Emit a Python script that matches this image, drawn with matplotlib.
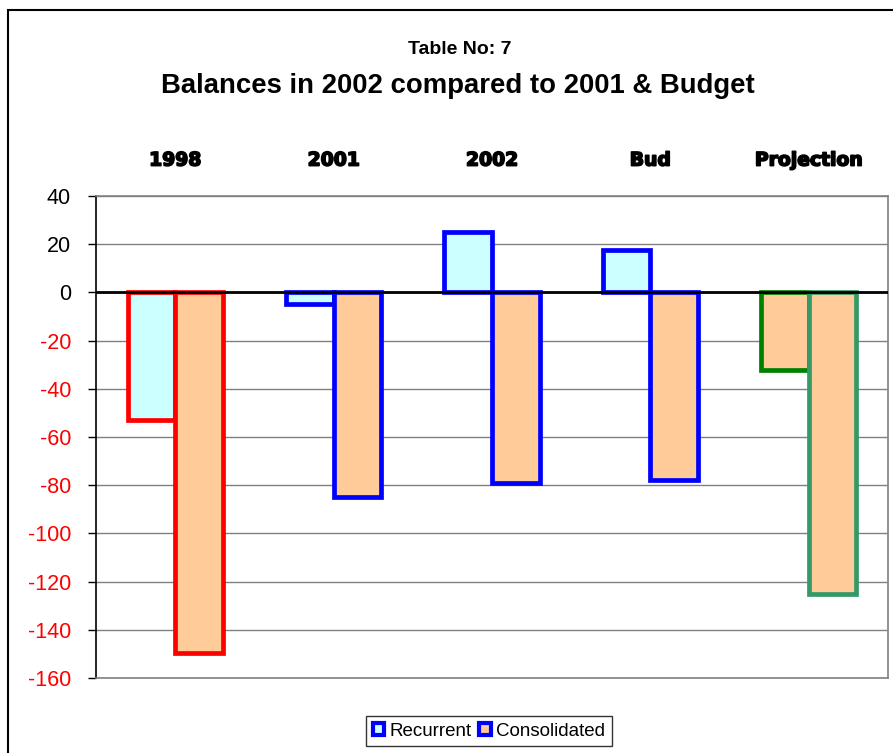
import matplotlib.pyplot as plt
import matplotlib.patheffects as pe
import numpy as np
from matplotlib.patches import Rectangle

categories = ['1998', '2001', '2002', 'Bud', 'Projection']
recurrent = [-53, -5, 25, 17.5, -32]
consolidated = [-149.5, -85, -79, -78, -125]

recurrent_fill = ['#CCFFFF', '#CCFFFF', '#CCFFFF', '#CCFFFF', '#FFCC99']
recurrent_edge = ['#FF0000', '#0000FF', '#0000FF', '#0000FF', '#008000']
consolidated_fill = ['#FFCC99'] * 5
consolidated_edge = ['#FF0000', '#0000FF', '#0000FF', '#0000FF', '#339966']

y_ticks = [40, 20, 0, -20, -40, -60, -80, -100, -120, -140, -160]

W, H = 893, 753
fig = plt.figure(figsize=(W / 100, H / 100), dpi=100)
fig.patch.set_facecolor('white')

# chart area border (runs off the right/bottom of the image)
fig.patches.append(Rectangle((8 / W, -0.1), 1.1, 1 - 10 / H + 0.1,
                             transform=fig.transFigure, fill=False,
                             edgecolor='black', linewidth=1.5))

ax = fig.add_axes([96 / W, 1 - 678 / H, (888 - 96) / W, (678 - 196) / H])

x = np.arange(len(categories))
w = 0.3
ax.bar(x - w / 2, recurrent, w, color=recurrent_fill, edgecolor=recurrent_edge,
       linewidth=3.4, zorder=3, label='Recurrent')
ax.bar(x + w / 2, consolidated, w, color=consolidated_fill, edgecolor=consolidated_edge,
       linewidth=3.4, zorder=3, label='Consolidated')
ax.axhline(0, color='black', linewidth=2, zorder=4)

ax.set_xlim(-0.5, len(categories) - 0.5)
ax.set_ylim(-160, 40)
ax.set_yticks(y_ticks)
ax.set_yticklabels([str(v) for v in y_ticks], fontsize=15.5, family='Liberation Sans')
for lbl, v in zip(ax.get_yticklabels(), y_ticks):
    lbl.set_color('red' if v < 0 else 'black')
ax.tick_params(axis='y', direction='out', length=6, width=1, color='black', pad=12)

ax.xaxis.tick_top()
ax.set_xticks(x)
ax.set_xticklabels(categories, fontsize=13.5, fontweight='bold', family='DejaVu Sans')
for lbl in ax.get_xticklabels():
    lbl.set_path_effects([pe.withStroke(linewidth=1.2, foreground='black')])
ax.tick_params(axis='x', length=0, pad=19)

ax.grid(axis='y', color='#808080', linewidth=1, zorder=0)
ax.set_axisbelow(True)
for side in ['top', 'right', 'bottom']:
    ax.spines[side].set_color('#808080')
    ax.spines[side].set_linewidth(1.2)
ax.spines['left'].set_color('black')
ax.spines['left'].set_linewidth(1.2)

fig.text(460 / W, 1 - 49 / H, 'Table No: 7', ha='center', va='center',
         fontsize=14, fontweight='bold', family='Liberation Sans')
fig.text(458 / W, 1 - 86 / H, 'Balances in 2002 compared to 2001 & Budget', ha='center',
         va='center', fontsize=19.8, fontweight='bold', family='Liberation Sans')

handles, labels = ax.get_legend_handles_labels()
leg = fig.legend(handles, labels, loc='center', bbox_to_anchor=(489 / W, 1 - 731 / H),
                 ncol=2, prop={'family': 'Liberation Sans', 'size': 13.5},
                 frameon=True, fancybox=False, edgecolor='black',
                 handlelength=0.6, handleheight=0.6, handletextpad=0.3,
                 columnspacing=0.4, borderpad=0.35)
leg.get_frame().set_linewidth(1)
for h in leg.legend_handles:
    h.set_edgecolor('#0000FF')
    h.set_linewidth(3)

fig.savefig('out.png', dpi=100)
